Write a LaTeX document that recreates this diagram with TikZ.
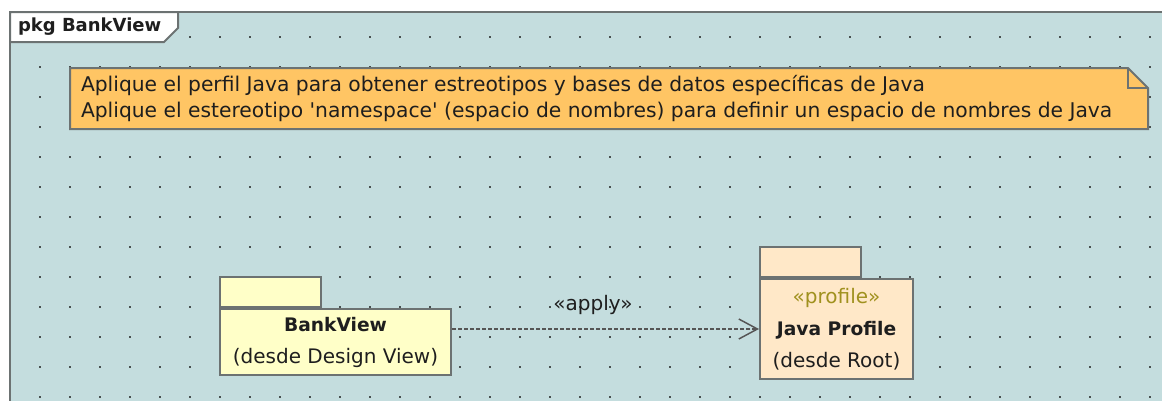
\documentclass[tikz,border=0pt]{standalone}
\usepackage{fontspec}
\setmainfont{DejaVu Sans}
\usetikzlibrary{arrows.meta}

\definecolor{framebg}{RGB}{196,221,222}
\definecolor{frameline}{RGB}{108,114,114}
\definecolor{griddot}{RGB}{72,80,80}
\definecolor{notefill}{RGB}{255,197,100}
\definecolor{bankfill}{RGB}{255,255,200}
\definecolor{profilefill}{RGB}{255,232,200}
\definecolor{stereocolor}{RGB}{160,145,30}
\definecolor{textcolor}{RGB}{30,30,30}

\tikzset{every picture/.style={line width=1.5pt}}
\tikzset{
    umlfont/.style={font=\fontsize{15}{24}\selectfont, text=textcolor},
    pkgbody/.style={draw=frameline, umlfont, align=center, inner sep=0pt, anchor=north west},
    pkgtab/.style={draw=frameline, inner sep=0pt, minimum width=75.75pt, minimum height=22.5pt, anchor=south west},
    applyline/.style={draw={rgb,255:red,85;green,85;blue,85}, line width=1.1pt, dash pattern={on 3pt off 1.5pt}, -{Straight Barb[length=14pt,width=15pt,line width=1.1pt]}}
}
\newcommand{\pkgtitle}[1]{\textbf{\fontsize{14}{24}\selectfont #1}}

\begin{document}
\begin{tikzpicture}[
            x=0.75pt,
            y=0.75pt,
            yscale=-1,
            xscale=1,
            line width=1.5pt
        ]
            \useasboundingbox (0,0) rectangle (1162,400);
            % diagram frame with grid
            \fill [framebg] (10,12) rectangle (1172,412);
            \foreach \gx in {40,70,...,1150} {
                \foreach \gy in {37,67,...,397} {
                    \fill [griddot] (\gx-1,\gy-1) rectangle (\gx+1,\gy+1);
                }
            }
            \draw [frameline] (10,412) -- (10,12) -- (1172,12);
            \draw [frameline, fill=white] (10,12) -- (178,12) -- (178,28) -- (164,42) -- (10,42) -- cycle;
            \node [anchor=west, inner sep=0pt, text=textcolor, font=\bfseries\fontsize{13.5}{16}\selectfont] (pkgname) at (17,27) {pkg BankView};

            % note
            \draw [frameline, fill=notefill] (70,68) -- (1128,68) -- (1148,88) -- (1148,129) -- (70,129) -- cycle;
            \draw [frameline] (1128,68) -- (1128,88) -- (1148,88);
            \node [umlfont, font=\fontsize{15.2}{19.5}\selectfont, anchor=west, align=left, inner sep=0pt] (notetext) at (80,98) {Aplique el perfil Java para obtener estreotipos y bases de datos específicas de Java\\Aplique el estereotipo \textquotesingle namespace\textquotesingle{} (espacio de nombres) para definir un espacio de nombres de Java};

            % packages
            \node [pkgbody, fill=bankfill, minimum width=173.25pt, minimum height=49.5pt] (bankview) at (219,308) {\pkgtitle{BankView}\\(desde Design View)};
            \node [pkgtab, fill=bankfill] (bankviewtab) at (bankview.north west) {};
            \node [pkgbody, fill=profilefill, minimum width=114.75pt, minimum height=75pt] (javaprofile) at (759,278) {\textcolor{stereocolor}{«profile»}\\\pkgtitle{Java Profile}\\(desde Root)};
            \node [pkgtab, fill=profilefill] (javaprofiletab) at (javaprofile.north west) {};

            % apply dependency
            \draw [applyline] (javaprofile.west -| bankview.east) -- (javaprofile.west);
            \node [umlfont, inner sep=0pt] (applylabel) at (593,305) {«apply»};
        \end{tikzpicture}
\end{document}
